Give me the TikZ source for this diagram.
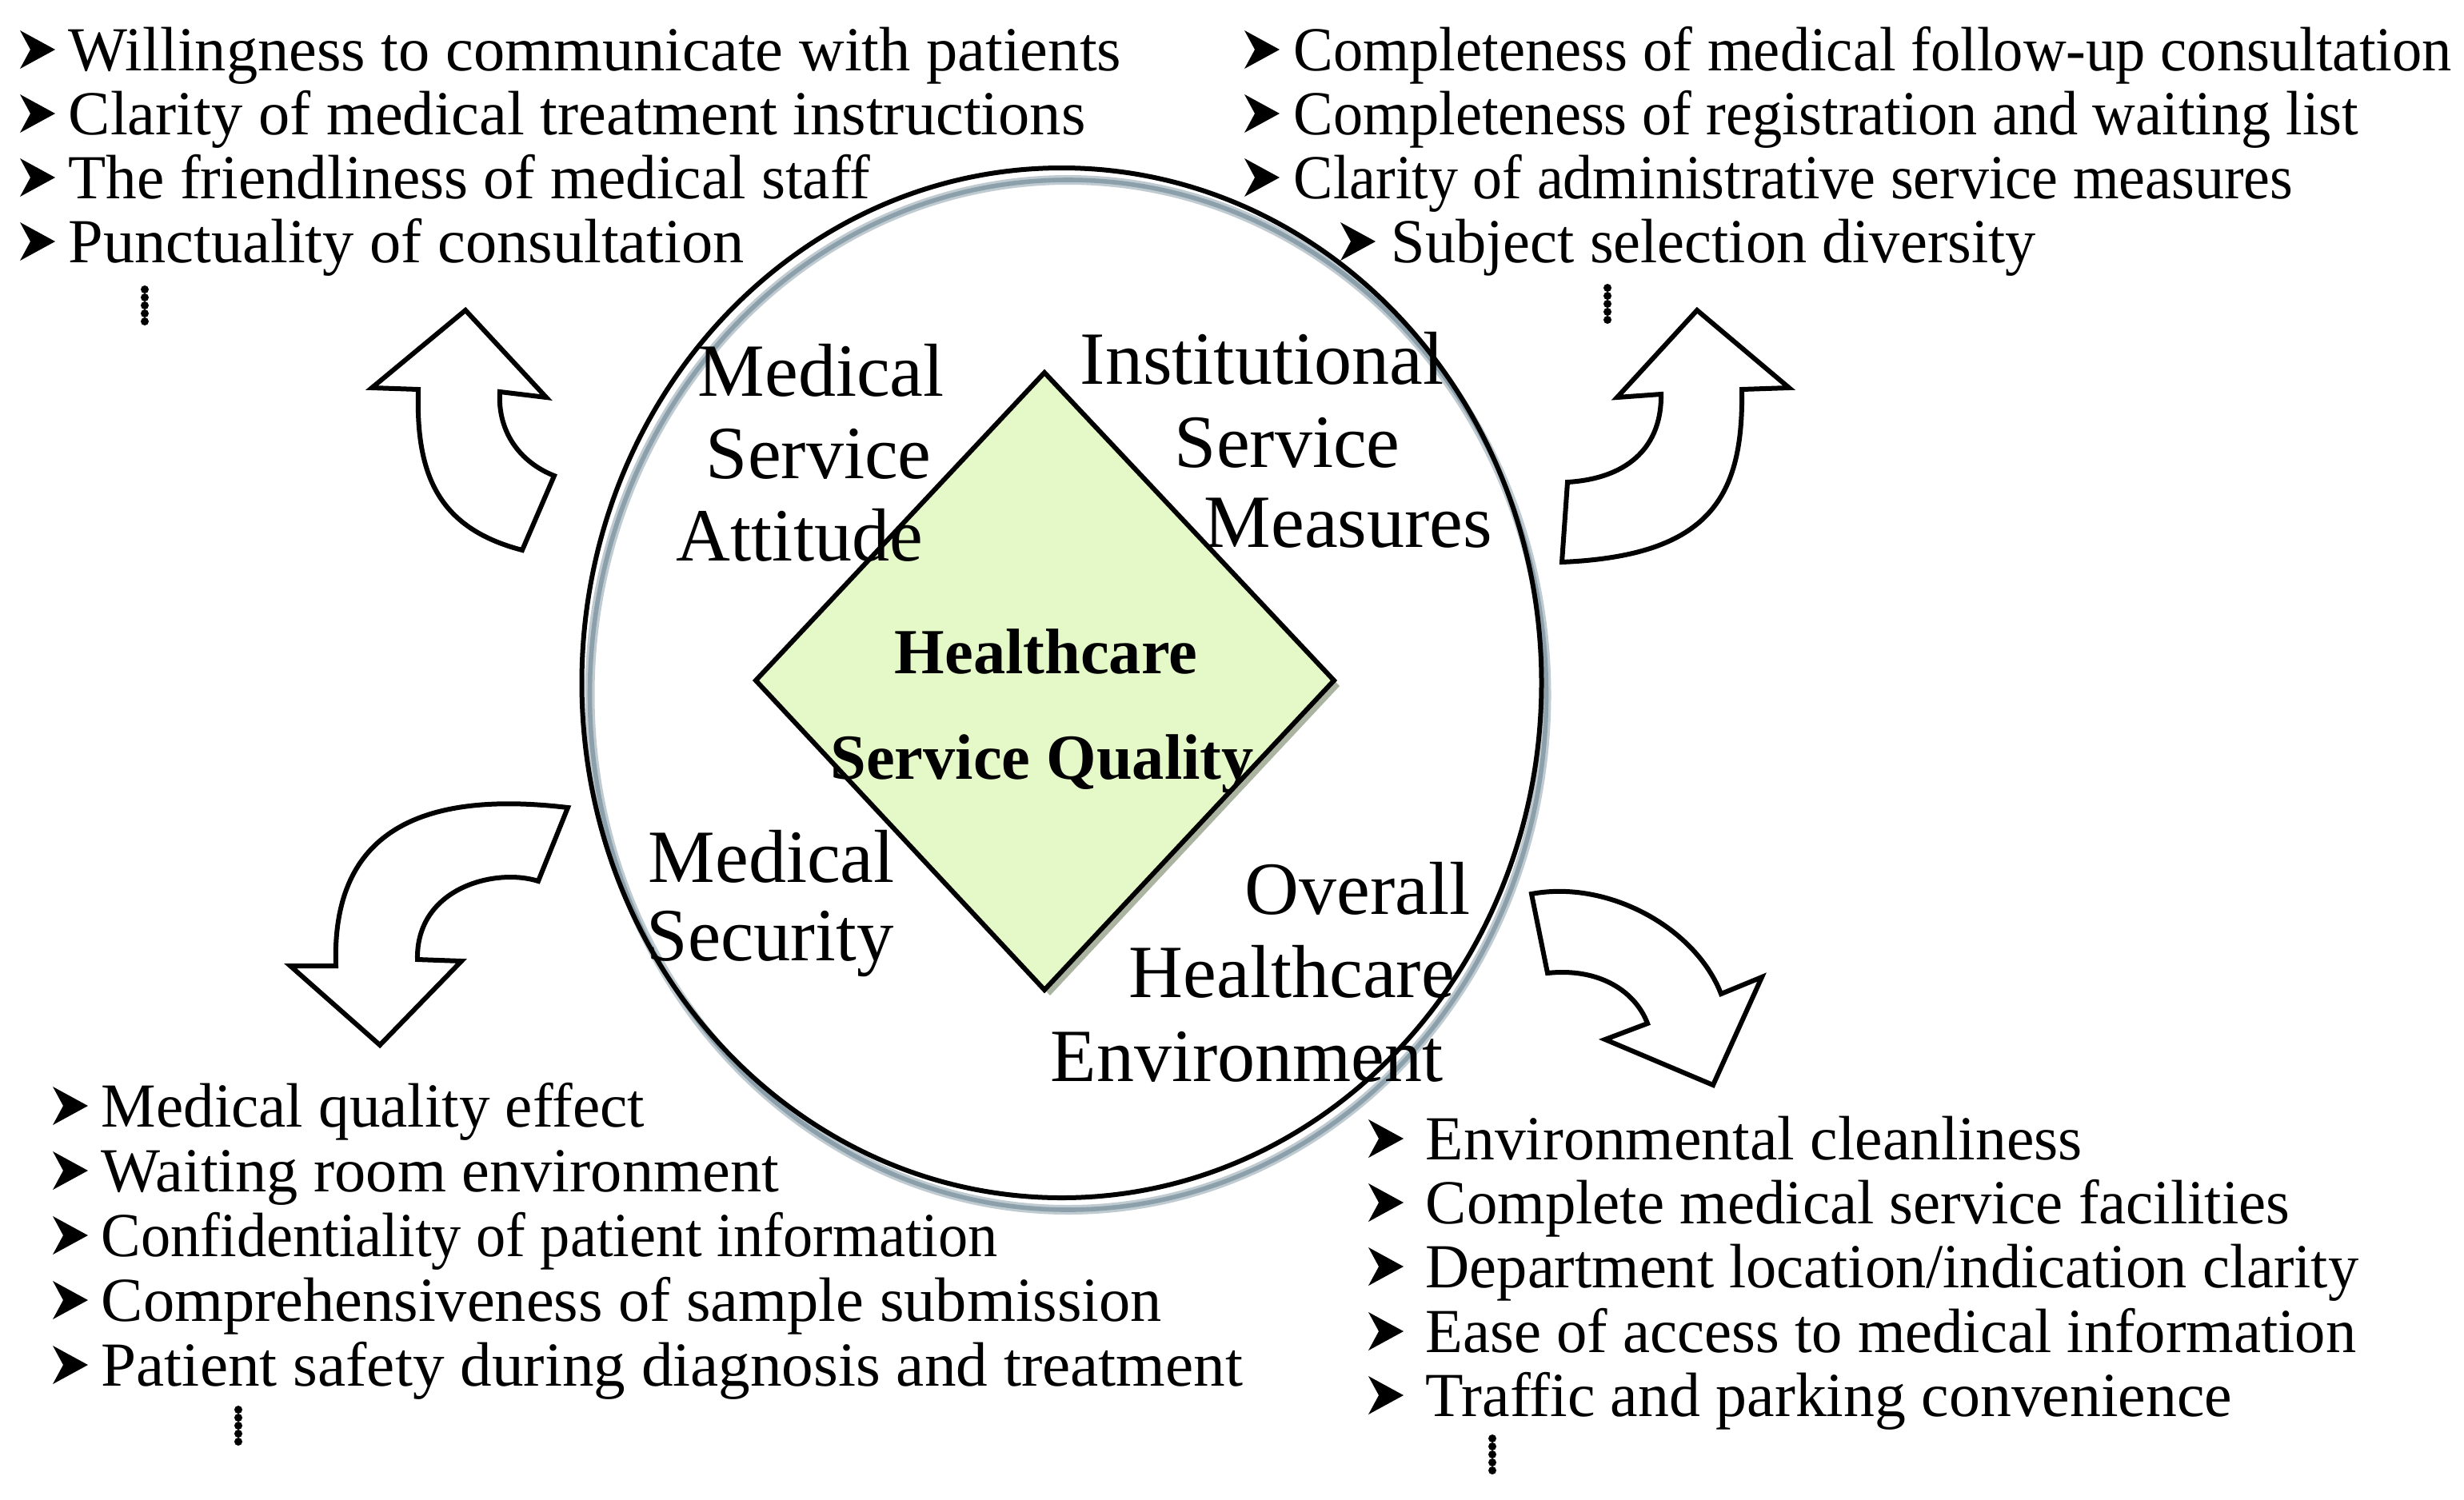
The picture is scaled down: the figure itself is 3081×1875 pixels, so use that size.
\documentclass[tikz,border=0pt]{standalone}
\usepackage{fontspec}
\setmainfont{Liberation Serif}
\definecolor{dgreen}{RGB}{229,248,199}
\definecolor{dshadow}{RGB}{170,180,160}
\definecolor{cshadow}{RGB}{140,160,172}
\newcommand\sx[2]{\scalebox{#1}[1]{#2}}
\begin{document}
\begin{tikzpicture}[x=0.25pt,y=-0.25pt,
  item/.style={anchor=base west,inner sep=0pt,font=\fontsize{19.6}{23}\selectfont},
  lbl/.style={anchor=base west,inner sep=0pt,font=\fontsize{23.5}{28}\selectfont},
  core/.style={anchor=base,inner sep=0pt,font=\fontsize{20.1}{24}\selectfont\bfseries},
  blockarrow/.style={draw=black,fill=white,line width=1.5pt,line join=miter},
  bul/.pic={\fill (0,-24) -- (44,0) -- (0,24) -- (13,0) -- cycle;},
  vdots/.pic={\foreach \k in {0,...,4}{\fill (0,\k*10) circle[radius=5];}}]
\useasboundingbox (0,0) rectangle (3081,1875);

% ---- circle with shadow
\draw[cshadow!55,line width=3pt] (1335.5,869) ellipse[x radius=598,y radius=644];
\draw[cshadow,line width=1.4pt] (1335.5,869) ellipse[x radius=598,y radius=644];
\draw[black,line width=1.5pt] (1327.5,854) ellipse[x radius=600,y radius=644];

% ---- diamond
\fill[dshadow] (1313,473) -- (1675,858) -- (1313,1245) -- (952,858) -- cycle;
\draw[fill=dgreen,line width=1.5pt,line join=miter] (1306,466) -- (1668,851) -- (1306,1238) -- (945,851) -- cycle;

\node[core] (hc) at (1308,842) {Healthcare};
\node[core] (sq) at (1303,974) {Service Quality};

% ---- labels in circle
\node[lbl] (a1) at (872,495) {Medical};
\node[lbl] (a2) at (882,598) {Service};
\node[lbl] (a3) at (845,701) {Attitude};
\node[lbl] (b1) at (1350,480) {Institutional};
\node[lbl] (b2) at (1468,584) {Service};
\node[lbl] (b3) at (1505,684) {Measures};
\node[lbl] (c1) at (810,1103) {Medical};
\node[lbl] (c2) at (808,1201) {\sx{0.985}{Security}};
\node[lbl] (d1) at (1556,1143) {Overall};
\node[lbl] (d2) at (1411,1247) {Healthcare};
\node[lbl] (d3) at (1313,1352) {Environment};

% ---- block arrows
\draw[blockarrow] (582,388) -- (465,485) -- (523,487)
  .. controls (520,590) and (545,660) .. (653,688) -- (693,595)
  .. controls (650,578) and (622,540) .. (625,490) -- (683,497) -- cycle;
\draw[blockarrow] (2122,388) -- (2237,485) -- (2178,487)
  .. controls (2180,620) and (2140,695) .. (1953,703) -- (1960,603)
  .. controls (2040,598) and (2078,555) .. (2077,493) -- (2022,497) -- cycle;
\draw[blockarrow] (475,1307) -- (363,1208) -- (420,1208)
  .. controls (415,1060) and (500,985) .. (710,1010) -- (673,1102)
  .. controls (620,1085) and (520,1110) .. (522,1200) -- (577,1202) -- cycle;
\draw[blockarrow] (1915,1118)
  .. controls (2010,1100) and (2120,1160) .. (2152,1243) -- (2203,1222)
  -- (2142,1357) -- (2007,1300) -- (2060,1280)
  .. controls (2045,1240) and (2000,1210) .. (1935,1217) -- cycle;

% ---- top-left list
\foreach \yy in {88,168,248,328} {\pic at (25,\yy-26) {bul};}
\node[item] (tl1) at (85,88) {Willingness to communicate with patients};
\node[item] (tl2) at (85,168) {Clarity of medical treatment instructions};
\node[item] (tl3) at (85,248) {\sx{0.985}{The friendliness of medical staff}};
\node[item] (tl4) at (85,328) {Punctuality of consultation};
\pic at (181,362) {vdots};

% ---- top-right list
\foreach \yy in {88,168,248} {\pic at (1556,\yy-26) {bul};}
\pic at (1676,302) {bul};
\node[item] (tr1) at (1617,88) {\sx{0.95}{Completeness of medical follow-up consultation}};
\node[item] (tr2) at (1617,168) {\sx{0.948}{Completeness of registration and waiting list}};
\node[item] (tr3) at (1617,248) {\sx{0.944}{Clarity of administrative service measures}};
\node[item] (tr4) at (1739,328) {\sx{0.974}{Subject selection diversity}};
\pic at (2010,360) {vdots};

% ---- bottom-left list
\foreach \yy in {1409,1490,1571,1652,1733} {\pic at (66,\yy-26) {bul};}
\node[item] (bl1) at (126,1409) {\sx{0.983}{Medical quality effect}};
\node[item] (bl2) at (126,1490) {Waiting room environment};
\node[item] (bl3) at (126,1571) {\sx{0.948}{Confidentiality of patient information}};
\node[item] (bl4) at (126,1652) {Comprehensiveness of sample submission};
\node[item] (bl5) at (126,1733) {\sx{1.01}{Patient safety during diagnosis and treatment}};
\pic at (298,1763) {vdots};

% ---- bottom-right list
\foreach \yy in {1450,1530,1610,1691,1771} {\pic at (1711,\yy-26) {bul};}
\node[item] (br1) at (1782,1450) {\sx{0.99}{Environmental cleanliness}};
\node[item] (br2) at (1782,1530) {\sx{0.979}{Complete medical service facilities}};
\node[item] (br3) at (1782,1610) {\sx{0.974}{Department location/indication clarity}};
\node[item] (br4) at (1782,1691) {\sx{0.977}{Ease of access to medical information}};
\node[item] (br5) at (1782,1771) {\sx{0.992}{Traffic and parking convenience}};
\pic at (1866,1799) {vdots};
\end{tikzpicture}
\end{document}
